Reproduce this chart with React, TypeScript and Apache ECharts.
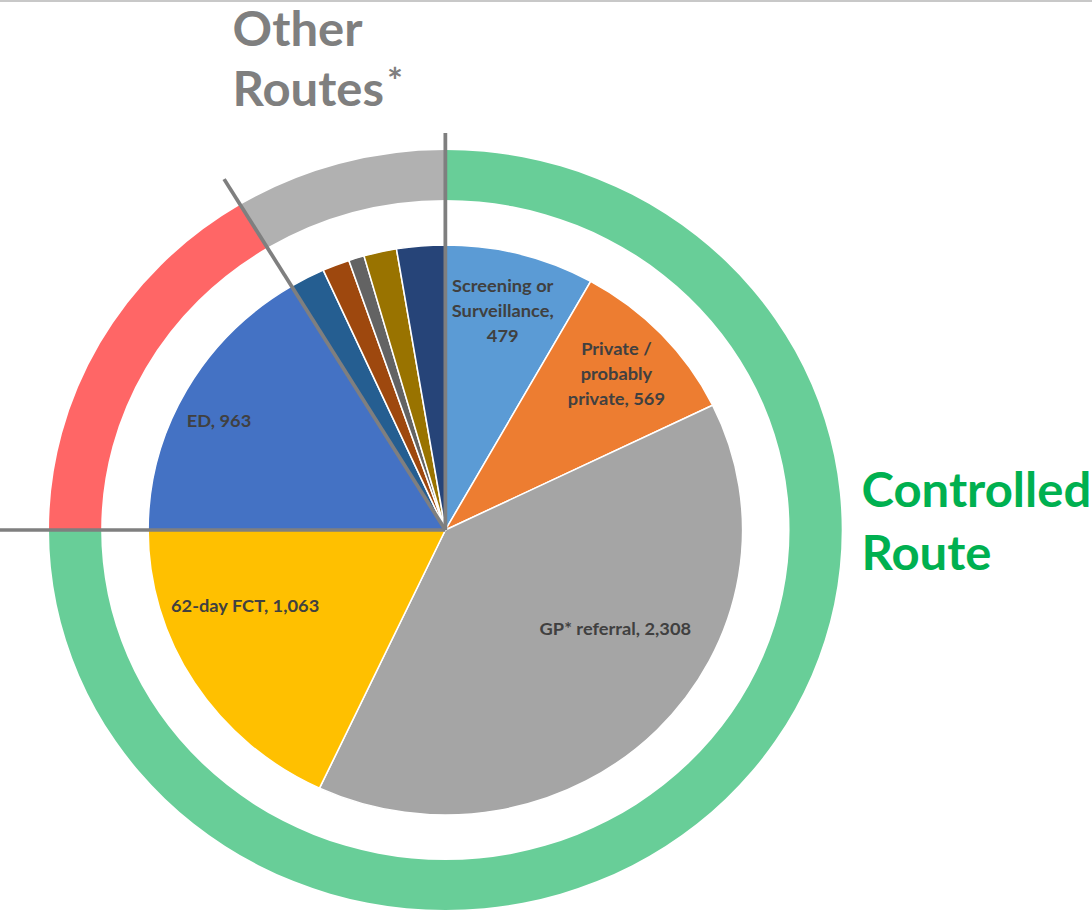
import React, { useEffect, useRef } from "react";
import * as echarts from "echarts";

// ---- data ----
const sliceNames = [
  "Screening or Surveillance",
  "Private / probably private",
  "GP* referral",
  "62-day FCT",
  "ED",
  "Other A",
  "Other B",
  "Other C",
  "Other D",
  "Other E",
];
const sliceValues = [479, 569, 2308, 1063, 963, 113, 87, 50, 105, 155];
const sliceLabels = [
  "Screening or\nSurveillance,\n479",
  "Private /\nprobably\nprivate, 569",
  "GP* referral, 2,308",
  "62-day FCT, 1,063",
  "ED, 963",
  "",
  "",
  "",
  "",
  "",
];
const sliceColors = [
  "#5B9BD5",
  "#ED7D31",
  "#A5A5A5",
  "#FFC000",
  "#4472C4",
  "#255E91",
  "#9E480E",
  "#636363",
  "#997300",
  "#264478",
];
const routeNames = ["Controlled Route", "Emergency Route", "Other Routes"];
const routeValues = [4419, 963, 510];
const routeColors = ["#68CE98", "#FF6666", "#B1B1B1"];

// ---- layout ----
const STRETCH = 1.043;
const W = 1092 / STRETCH;
const H = 914;
const CX = 427;
const CY = 530;
const labelPos: [number, number][] = [
  [482, 310],
  [591, 373],
  [590, 628],
  [235, 605],
  [210, 420],
];

export default function App() {
  const ref = useRef<HTMLDivElement>(null);
  useEffect(() => {
    if (!ref.current) return;
    const chart = echarts.init(ref.current, null, { renderer: "svg" });
    const total = routeValues.reduce((a, b) => a + b, 0);
    const boundaries = [0, routeValues[0], routeValues[0] + routeValues[1]];
    const lens = [397, CX + 5, 410];
    const lines = boundaries.map((b, i) => {
      const th = (b / total) * Math.PI * 2;
      return {
        type: "line",
        z: 100,
        shape: {
          x1: CX,
          y1: CY,
          x2: CX + lens[i] * Math.sin(th),
          y2: CY - lens[i] * Math.cos(th),
        },
        style: { stroke: "#7F7F7F", lineWidth: 3.6 },
      };
    });
    const font = "Lato, 'Noto Sans', sans-serif";
    chart.setOption({
      animation: false,
      backgroundColor: "#ffffff",
      series: [
        {
          type: "pie",
          center: [CX, CY],
          radius: [330, 380],
          startAngle: 90,
          clockwise: true,
          silent: true,
          label: { show: false },
          labelLine: { show: false },
          itemStyle: { borderWidth: 0 },
          data: routeNames.map((n, i) => ({
            name: n,
            value: routeValues[i],
            itemStyle: { color: routeColors[i] },
          })),
        },
        {
          type: "pie",
          center: [CX, CY],
          radius: [0, 285],
          startAngle: 90,
          clockwise: true,
          silent: true,
          labelLine: { show: false },
          itemStyle: { borderColor: "#ffffff", borderWidth: 1.5 },
          label: {
            show: true,
            position: "inside",
            color: "#404040",
            fontFamily: font,
            fontWeight: "bold",
            fontSize: 17.5,
            lineHeight: 25,
            align: "center",
          },
          labelLayout: (params: any) => {
            const p = labelPos[params.dataIndex];
            if (!p) return {};
            return { x: p[0], y: p[1], align: "center", verticalAlign: "middle" };
          },
          data: sliceNames.map((n, i) => ({
            name: n,
            value: sliceValues[i],
            itemStyle: { color: sliceColors[i] },
            label: sliceLabels[i]
              ? { show: true, formatter: sliceLabels[i] }
              : { show: false },
          })),
        },
      ],
      graphic: [
        {
          type: "rect",
          z: 100,
          shape: { x: 0, y: 0, width: W, height: 2 },
          style: { fill: "#C8C8C8" },
        },
        ...lines,
        {
          type: "text",
          z: 100,
          left: 223,
          top: 4,
          style: {
            text: "Other",
            fill: "#7F7F7F",
            font: `bold 47px ${font}`,
            lineHeight: 47,
          },
        },
        {
          type: "text",
          z: 100,
          left: 223,
          top: 64,
          style: {
            text: "Routes",
            fill: "#7F7F7F",
            font: `bold 47px ${font}`,
            lineHeight: 47,
          },
        },
        {
          type: "text",
          z: 100,
          left: 371,
          top: 62,
          style: { text: "*", fill: "#7F7F7F", font: `bold 36px ${font}` },
        },
        {
          type: "text",
          z: 100,
          left: 826,
          top: 457,
          style: {
            text: "Controlled\nRoute",
            fill: "#00B050",
            font: `bold 47px ${font}`,
            lineHeight: 63,
          },
        },
      ],
    });
    return () => chart.dispose();
  }, []);
  return (
    <div
      ref={ref}
      style={{
        position: "absolute",
        left: 0,
        top: 0,
        width: W,
        height: H,
        transform: `scaleX(${STRETCH})`,
        transformOrigin: "0 0",
      }}
    />
  );
}
